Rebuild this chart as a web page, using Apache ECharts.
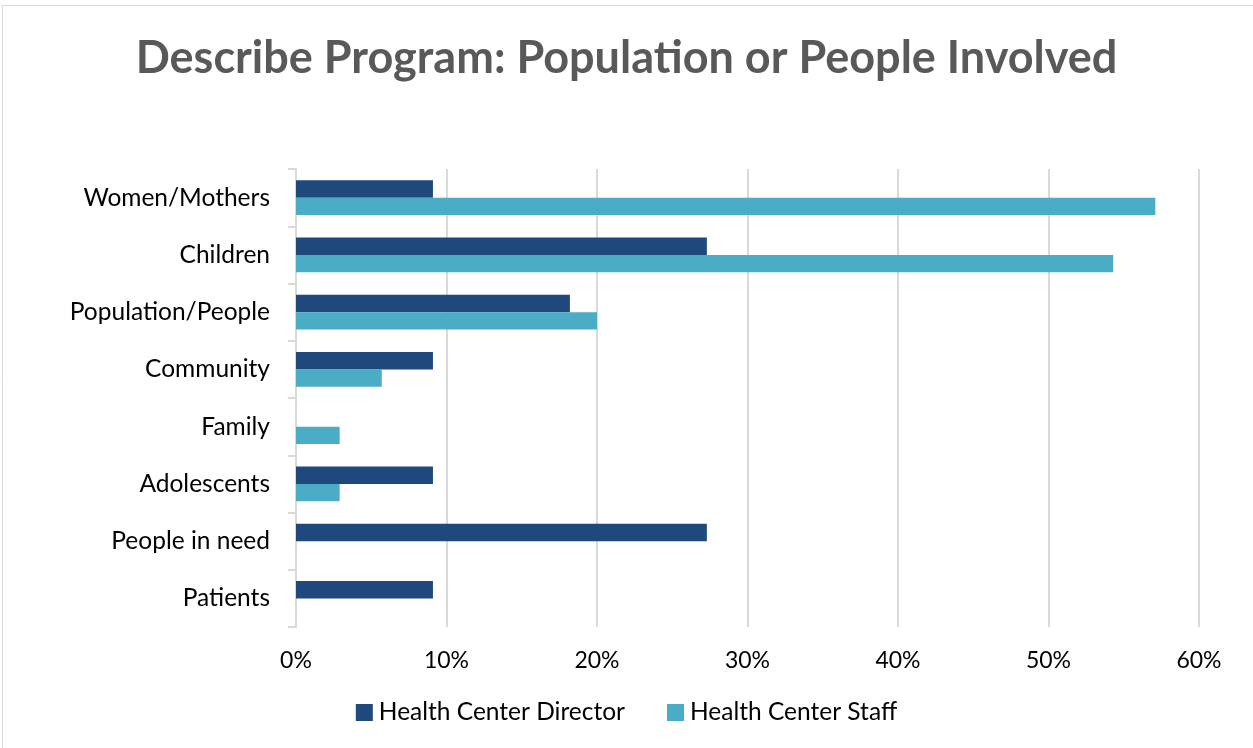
<!DOCTYPE html>
<html><head><meta charset="utf-8">
<script src="https://cdn.jsdelivr.net/npm/echarts@6/dist/echarts.min.js"></script>
<style>html,body{margin:0;padding:0;background:#fff}#c{width:1253px;height:748px}</style>
</head><body><div id="c"></div>
<script>
const categories = ["Women/Mothers","Children","Population/People","Community","Family","Adolescents","People in need","Patients"];
const directorValues = [9.1, 27.3, 18.2, 9.1, 0, 9.1, 27.3, 9.1];
const staffValues = [57.1, 54.3, 20.0, 5.7, 2.9, 2.9, 0, 0];
const xTicks = [0, 10, 20, 30, 40, 50, 60];
const seriesNames = ["Health Center Director", "Health Center Staff"];

const chart = echarts.init(document.getElementById('c'), null, {renderer:'canvas'});
const font = 'Lato, "Open Sans", sans-serif';
chart.setOption({
  animation:false,
  backgroundColor:'#fff',
  title:{text:'Describe Program: Population or People Involved', left:'center', top:31,
    textStyle:{fontFamily:font, fontWeight:'bold', fontSize:45, color:'#595959'}},
  graphic:[{type:'rect', shape:{x:2.5,y:5.5,width:1260,height:760}, style:{fill:'none', stroke:'#d9d9d9', lineWidth:1}, silent:true}],
  legend:{bottom:18, left:640, itemWidth:17, itemHeight:17, itemGap:42, icon:'rect',
    textStyle:{fontFamily:font, fontSize:24.5, color:'#000', padding:[0,0,0,1]}, data:seriesNames},
  grid:{left:296, right:54, top:169, bottom:121, containLabel:false},
  xAxis:{type:'value', min:xTicks[0], max:xTicks[xTicks.length-1], interval:10,
    axisLabel:{formatter:v=>v+'%', fontFamily:font, fontSize:23, color:'#000', margin:22},
    axisLine:{show:false}, axisTick:{show:false},
    splitLine:{lineStyle:{color:'#d9d9d9', width:2}}},
  yAxis:{type:'category', data:categories, inverse:true,
    axisLabel:{fontFamily:font, fontSize:24.5, color:'#000', margin:26},
    axisLine:{show:true, lineStyle:{color:'#d9d9d9', width:2}},
    axisTick:{show:true, length:8, lineStyle:{color:'#d9d9d9', width:2}}},
  series:[
    {name:seriesNames[0], type:'bar', data:directorValues, itemStyle:{color:'#1f497d'}, barGap:'0%', barCategoryGap:'39%'},
    {name:seriesNames[1], type:'bar', data:staffValues, itemStyle:{color:'#4bacc6'}, barGap:'0%', barCategoryGap:'39%'}
  ]
});
chart.setOption({legend:{left:'center'}});
</script></body></html>
